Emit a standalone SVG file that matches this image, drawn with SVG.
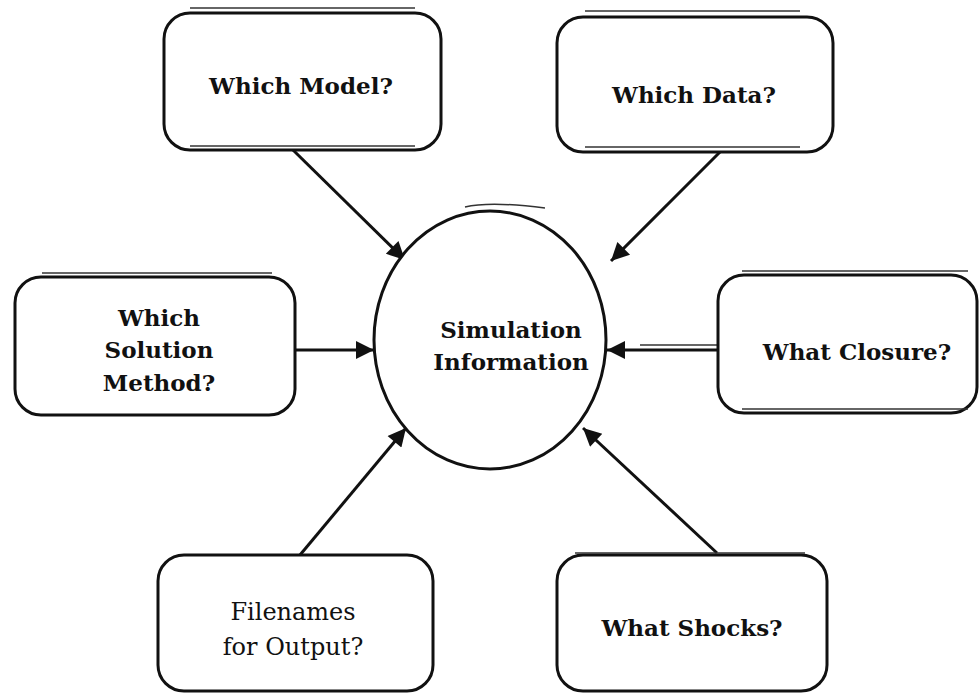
<svg xmlns="http://www.w3.org/2000/svg" width="979" height="694" viewBox="0 0 979 694">
<defs>
<style>
.box{fill:#fff;stroke:#111;stroke-width:3}
.dbl{fill:none;stroke:#333;stroke-width:1.5}
.lbl{font-family:"DejaVu Serif","Liberation Serif",serif;font-weight:bold;font-size:23px;fill:#111;text-anchor:middle}
.con{stroke:#111;stroke-width:3;fill:none}
</style>
<marker id="ah" viewBox="0 0 10 10" refX="10" refY="5" markerWidth="7" markerHeight="6" markerUnits="strokeWidth" orient="auto">
<path d="M0,0 L10,5 L0,10 Z" fill="#111"/>
</marker>
</defs>
<rect width="979" height="694" fill="#fff"/>
<g id="connectors">
<line class="con" x1="293" y1="150" x2="405" y2="260" marker-end="url(#ah)"/>
<line class="con" x1="720" y1="152" x2="611" y2="261" marker-end="url(#ah)"/>
<line class="con" x1="295" y1="350" x2="374" y2="350" marker-end="url(#ah)"/>
<line class="con" x1="718" y1="350" x2="607" y2="350" marker-end="url(#ah)"/>
<line class="dbl" x1="640" y1="345" x2="718" y2="345"/>
<line class="con" x1="300" y1="555" x2="406" y2="428" marker-end="url(#ah)"/>
<line class="con" x1="717" y1="553" x2="583" y2="428" marker-end="url(#ah)"/>
</g>
<g id="center">
<ellipse class="box" cx="490" cy="340" rx="116" ry="129"/>
<path class="dbl" d="M465,207 Q490,201 545,208"/>
<text class="lbl" x="511" y="338">Simulation</text>
<text class="lbl" x="511" y="370">Information</text>
</g>
<g id="model">
<rect class="box" x="164" y="13" width="277" height="137" rx="26"/>
<line class="dbl" x1="190" y1="8" x2="415" y2="8"/>
<line class="dbl" x1="190" y1="146" x2="415" y2="146"/>
<text class="lbl" x="301" y="94">Which Model?</text>
</g>
<g id="data">
<rect class="box" x="557" y="17" width="276" height="135" rx="26"/>
<line class="dbl" x1="585" y1="11" x2="800" y2="11"/>
<line class="dbl" x1="585" y1="147" x2="800" y2="147"/>
<text class="lbl" x="694" y="103">Which Data?</text>
</g>
<g id="solution">
<rect class="box" x="15" y="277" width="280" height="138" rx="26"/>
<line class="dbl" x1="42" y1="273" x2="272" y2="273"/>
<text class="lbl" x="159" y="326">Which</text>
<text class="lbl" x="159" y="358">Solution</text>
<text class="lbl" x="159" y="391">Method?</text>
</g>
<g id="closure">
<rect class="box" x="718" y="275" width="259" height="138" rx="26"/>
<line class="dbl" x1="742" y1="271" x2="968" y2="271"/>
<line class="dbl" x1="742" y1="409" x2="968" y2="409"/>
<text class="lbl" x="857" y="360">What Closure?</text>
</g>
<g id="filenames">
<rect class="box" x="158" y="555" width="275" height="136" rx="26"/>
<text class="lbl" x="293" y="620" style="font-weight:normal;font-size:24px">Filenames</text>
<text class="lbl" x="293" y="655" style="font-weight:normal;font-size:24px">for Output?</text>
</g>
<g id="shocks">
<rect class="box" x="557" y="555" width="270" height="136" rx="26"/>
<line class="dbl" x1="575" y1="553" x2="805" y2="553"/>
<text class="lbl" x="692" y="636">What Shocks?</text>
</g>
</svg>
